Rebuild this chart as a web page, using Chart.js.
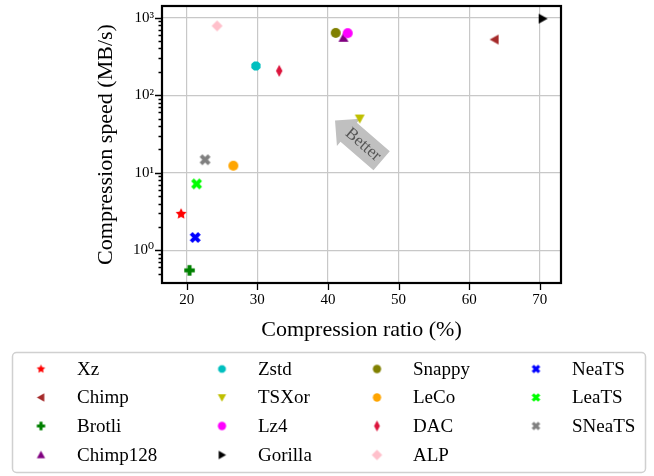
<!DOCTYPE html>
<html lang="en">
<head>
<meta charset="UTF-8">
<title>Compression speed vs compression ratio</title>
<script src="https://cdn.jsdelivr.net/npm/chart.js"></script>
<style>
  html, body { margin: 0; padding: 0; background: #fff; }
  #wrap { width: 654px; height: 476px; }
</style>
</head>
<body>
<div id="wrap"><canvas id="chart" width="654" height="476"></canvas></div>
<script>
// data
const names = ['Xz', 'Chimp', 'Brotli', 'Chimp128', 'Zstd', 'TSXor', 'Lz4', 'Gorilla',
               'Snappy', 'LeCo', 'DAC', 'ALP', 'NeaTS', 'LeaTS', 'SNeaTS'];
const ratio = [19.2, 63.6, 20.4, 42.2, 29.8, 44.5, 42.8, 70.4, 41.1, 26.6, 33.1, 24.3, 21.2, 21.4, 22.6];
const speed = [2.95, 522, 0.55, 550, 238, 50, 631, 970, 635, 12.3, 206, 783, 1.46, 7.17, 14.7];
const xTickValues = [20, 30, 40, 50, 60, 70];
const yDecades = [1, 10, 100, 1000];
const arrowTip = { x: 41.0, y: 47 };
const arrowTail = { x: 47.6, y: 14.3 };

// styles
const colors = ['#ff0000', '#a52a2a', '#008000', '#800080', '#00bfbf', '#bfbf00', '#ff00ff', '#000000',
                '#808000', '#ffa500', '#dc143c', '#ffc0cb', '#0000ff', '#00ff00', '#808080'];
const shapes = ['star', 'left', 'plus', 'up', 'oct', 'down', 'circle', 'right',
                'circle', 'circle', 'thin', 'diamond', 'x', 'x', 'x'];

const FONT = "'Liberation Serif', 'DejaVu Serif', serif";
Chart.defaults.font.family = FONT;
Chart.defaults.color = '#000';

function makeMarker(shape, color, size) {
  const c = document.createElement('canvas');
  c.width = c.height = Math.ceil(size + 8);
  const g = c.getContext('2d');
  g.translate(c.width / 2, c.height / 2);
  g.fillStyle = color;
  const r = size / 2;
  g.beginPath();
  if (shape === 'circle') {
    g.arc(0, 0, r, 0, Math.PI * 2);
  } else if (shape === 'star') {
    for (let i = 0; i < 10; i++) {
      const a = -Math.PI / 2 + i * Math.PI / 5;
      const rr = i % 2 ? r * 0.5 : r;
      g.lineTo(Math.cos(a) * rr, Math.sin(a) * rr);
    }
  } else if (shape === 'up' || shape === 'down' || shape === 'left' || shape === 'right') {
    const rot = { up: 0, right: Math.PI / 2, down: Math.PI, left: -Math.PI / 2 }[shape];
    g.rotate(rot);
    g.moveTo(0, -r);
    g.lineTo(r, r * 0.8);
    g.lineTo(-r, r * 0.8);
  } else if (shape === 'oct') {
    for (let i = 0; i < 8; i++) {
      const a = Math.PI / 8 + i * Math.PI / 4;
      g.lineTo(Math.cos(a) * r, Math.sin(a) * r);
    }
  } else if (shape === 'thin') {
    g.moveTo(0, -r * 1.2);
    g.lineTo(r * 0.65, 0);
    g.lineTo(0, r * 1.2);
    g.lineTo(-r * 0.65, 0);
  } else if (shape === 'diamond') {
    g.moveTo(0, -r);
    g.lineTo(r, 0);
    g.lineTo(0, r);
    g.lineTo(-r, 0);
  } else if (shape === 'plus' || shape === 'x') {
    if (shape === 'x') g.rotate(Math.PI / 4);
    const a = r * 0.38, R = shape === 'x' ? r * 1.1 : r;
    const pts = [[-a, -R], [a, -R], [a, -a], [R, -a], [R, a], [a, a], [a, R], [-a, R],
                 [-a, a], [-R, a], [-R, -a], [-a, -a]];
    pts.forEach(p => g.lineTo(p[0], p[1]));
  }
  g.closePath();
  g.fill();
  return c;
}

const plotSize = { diamond: 11, thin: 10, star: 11.5, x: 10.5, plus: 10.5 };
const legendSize = { diamond: 10.5, thin: 9, star: 9 };
const plotMarkers = shapes.map((s, i) => makeMarker(s, colors[i], plotSize[s] || 10));
const legendMarkers = shapes.map((s, i) => makeMarker(s, colors[i], legendSize[s] || 8.3));

function isDecade(v) {
  const l = Math.log10(v);
  return Math.abs(l - Math.round(l)) < 1e-9;
}
const sup = { '-': '⁻', '0': '⁰', '1': '¹', '2': '²', '3': '³' };

const datasets = names.map((n, i) => ({
  label: n,
  data: [{ x: ratio[i], y: speed[i] }],
  pointStyle: plotMarkers[i],
  pointRadius: 5,
  backgroundColor: colors[i],
  borderColor: colors[i],
  order: names.length - i
}));

// frame, tick marks, arrow and legend
const extras = {
  id: 'extras',
  beforeDatasetsDraw(chart) {
    const { ctx, scales: { x, y } } = chart;
    const tx = x.getPixelForValue(arrowTip.x), ty = y.getPixelForValue(arrowTip.y);
    const bx = x.getPixelForValue(arrowTail.x), by = y.getPixelForValue(arrowTail.y);
    const L = Math.hypot(bx - tx, by - ty);
    const hl = 18, hw = 36, bw = 25;
    ctx.save();
    ctx.translate(tx, ty);
    ctx.rotate(Math.atan2(by - ty, bx - tx));
    ctx.beginPath();
    ctx.moveTo(0, 0);
    ctx.lineTo(hl, -hw / 2);
    ctx.lineTo(hl, -bw / 2);
    ctx.lineTo(L, -bw / 2);
    ctx.lineTo(L, bw / 2);
    ctx.lineTo(hl, bw / 2);
    ctx.lineTo(hl, hw / 2);
    ctx.closePath();
    ctx.fillStyle = '#c0c0c0';
    ctx.fill();
    ctx.fillStyle = '#555';
    ctx.font = '17px ' + FONT;
    ctx.textAlign = 'center';
    ctx.textBaseline = 'middle';
    ctx.fillText('Better', 37, 0);
    ctx.restore();
  },
  afterDraw(chart) {
    const { ctx, chartArea: a, scales: { x, y } } = chart;
    ctx.save();
    ctx.strokeStyle = '#000';
    ctx.lineWidth = 1.3;
    ctx.beginPath();
    y.ticks.forEach(t => {
      const py = Math.round(y.getPixelForValue(t.value)) + 0.5;
      const len = isDecade(t.value) ? 7 : 3.5;
      ctx.moveTo(a.left, py);
      ctx.lineTo(a.left - len, py);
    });
    x.ticks.forEach(t => {
      const px = Math.round(x.getPixelForValue(t.value)) + 0.5;
      ctx.moveTo(px, a.bottom);
      ctx.lineTo(px, a.bottom + 7);
    });
    ctx.stroke();
    ctx.lineWidth = 2.2;
    ctx.strokeRect(a.left, a.top, a.right - a.left, a.bottom - a.top);

    // legend, filled column by column
    ctx.fillStyle = 'rgba(255,255,255,0.85)';
    ctx.strokeStyle = '#d0d0d0';
    ctx.lineWidth = 1.5;
    ctx.beginPath();
    ctx.roundRect(12.5, 352.5, 633, 120, 4);
    ctx.fill();
    ctx.stroke();
    const colX = [41, 222, 377, 536];
    const rowY = [369, 397.5, 426, 455];
    ctx.font = '19px ' + FONT;
    ctx.fillStyle = '#000';
    ctx.textAlign = 'left';
    ctx.textBaseline = 'middle';
    names.forEach((n, i) => {
      const cx = colX[Math.floor(i / 4)], cy = rowY[i % 4];
      const m = legendMarkers[i];
      ctx.drawImage(m, cx - m.width / 2, cy - m.height / 2);
      ctx.fillText(n, cx + 36, cy + 1);
    });
    ctx.restore();
  }
};

new Chart(document.getElementById('chart'), {
  type: 'scatter',
  data: { datasets },
  options: {
    responsive: false,
    animation: false,
    layout: { padding: { left: 93, right: 93, top: 4, bottom: 133 } },
    plugins: { legend: { display: false }, tooltip: { enabled: false } },
    scales: {
      x: {
        type: 'linear',
        min: 16.5,
        max: 73,
        afterBuildTicks: s => { s.ticks = xTickValues.map(v => ({ value: v })); },
        afterFit: s => { s.height = 60; s.paddingLeft = 0; s.paddingRight = 0; },
        border: { display: false },
        grid: { color: '#c8c8c8', lineWidth: 1.2, drawTicks: false },
        ticks: { padding: 8, font: { size: 15 }, color: '#000' },
        title: { display: true, text: 'Compression ratio (%)', font: { size: 22 }, padding: 0 }
      },
      y: {
        type: 'logarithmic',
        min: 0.378,
        max: 1413,
        afterBuildTicks: s => {
          s.ticks = s.ticks.filter(t => {
            const e = Math.pow(10, Math.floor(Math.log10(t.value) + 1e-9));
            const m = t.value / e;
            return Math.abs(m - Math.round(m)) < 1e-6 && t.value >= 0.378 && t.value <= 1413;
          });
        },
        afterFit: s => { s.width = 69; s.paddingTop = 0; s.paddingBottom = 0; },
        border: { display: false },
        grid: {
          color: c => (c.tick && yDecades.includes(Math.round(c.tick.value * 1e6) / 1e6)) ? '#c8c8c8' : 'rgba(0,0,0,0)',
          lineWidth: 1.2,
          drawTicks: false
        },
        ticks: {
          autoSkip: false,
          padding: 8,
          font: { size: 15 },
          color: '#000',
          callback: v => {
            if (!isDecade(v)) return '';
            const e = String(Math.round(Math.log10(v)));
            return '10' + e.split('').map(ch => sup[ch]).join('');
          }
        },
        title: { display: true, text: 'Compression speed (MB/s)', font: { size: 22 }, padding: 0 }
      }
    }
  },
  plugins: [extras]
});
</script>
</body>
</html>
